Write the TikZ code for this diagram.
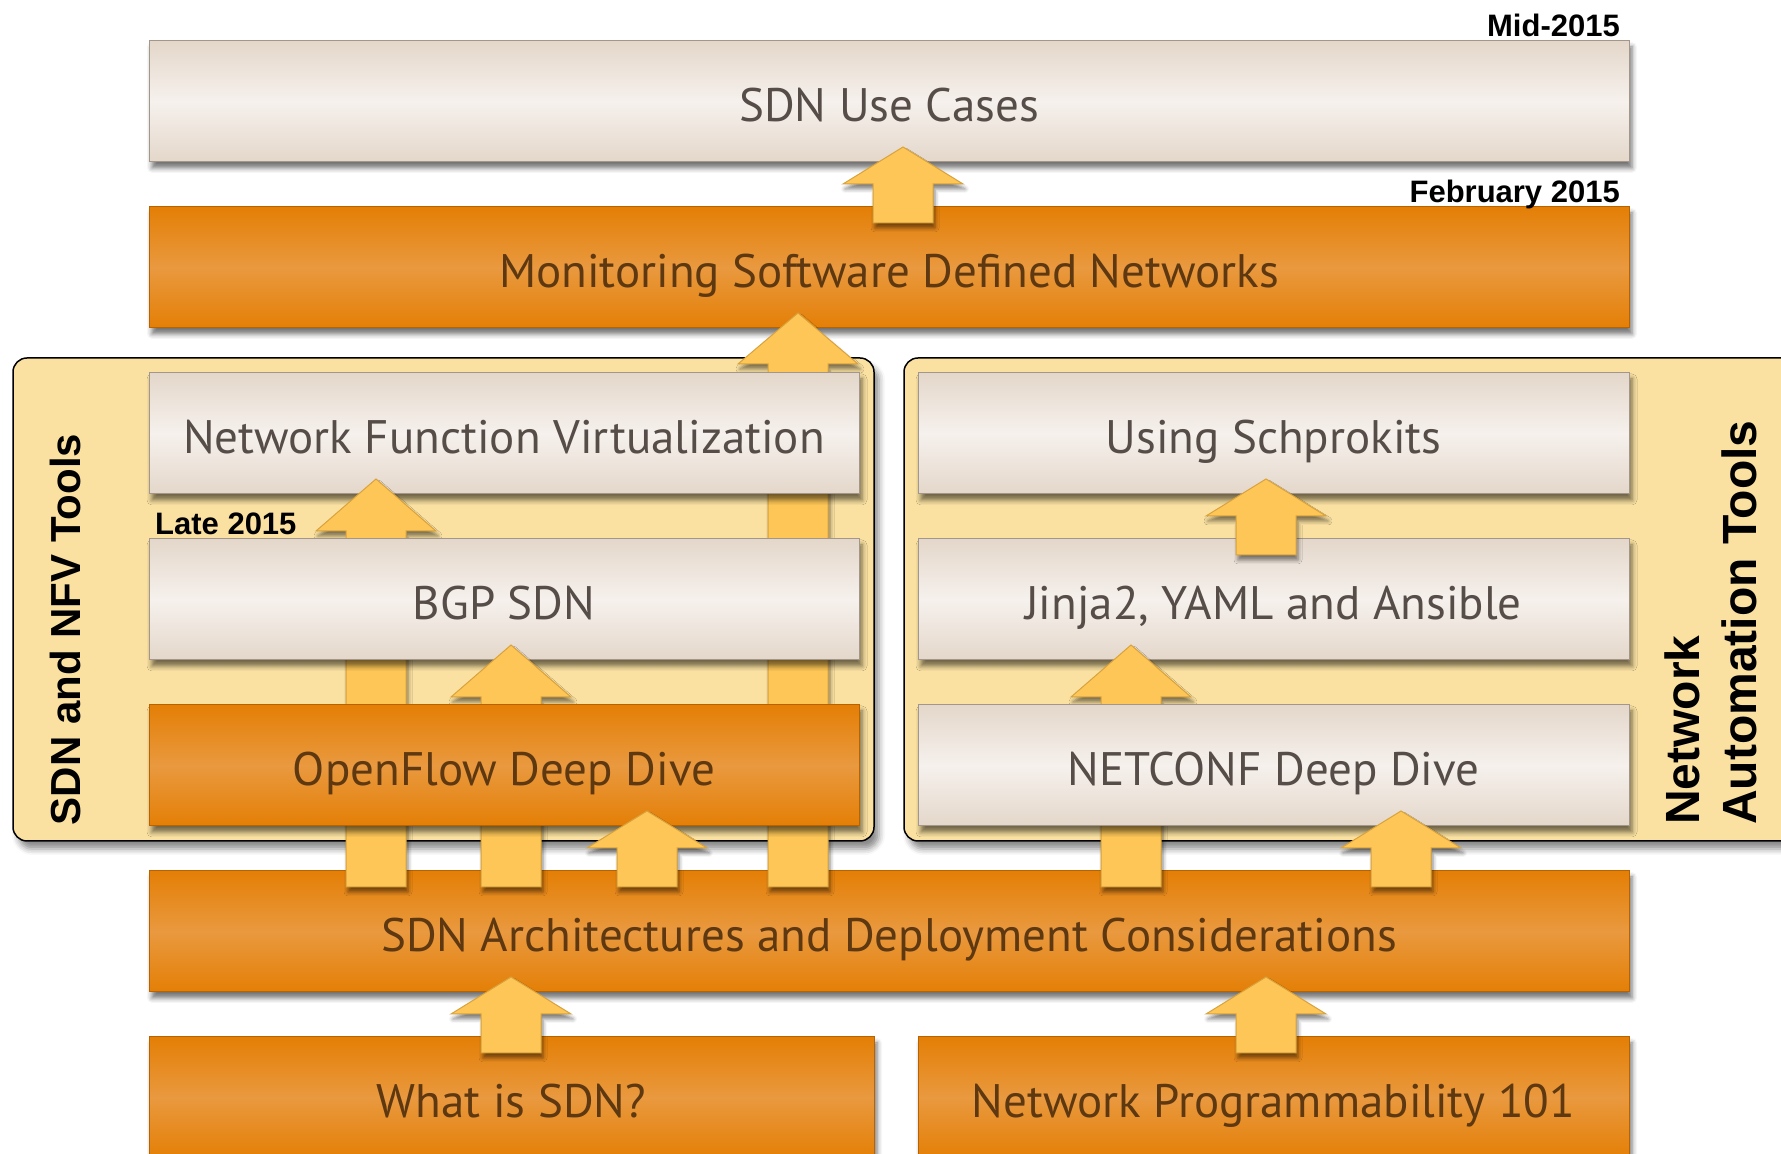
\documentclass[tikz,border=0pt]{standalone}
\usepackage{fontspec}
\usetikzlibrary{positioning,shadows,shadows.blur}

\newfontfamily\slabfont{PT Sans}
\newfontfamily\tagfont{Liberation Sans}

\definecolor{paleTop}{HTML}{E4D7CA}
\definecolor{paleMid}{HTML}{F6F1ED}
\definecolor{paleEdge}{HTML}{A3968A}
\definecolor{paleText}{HTML}{564D48}
\definecolor{hotTop}{HTML}{E47F06}
\definecolor{hotMid}{HTML}{E9993F}
\definecolor{hotEdge}{HTML}{B86300}
\definecolor{hotText}{HTML}{5E3811}
\definecolor{liftFill}{HTML}{FDC656}
\definecolor{liftEdge}{HTML}{D9A23C}
\definecolor{groupFill}{HTML}{FAE1A1}

\begin{document}
\begin{tikzpicture}[x=1pt, y=1pt,
    slab/.style={rectangle, inner sep=0pt, outer sep=0pt, minimum height=121pt, line width=1pt,
        text height=40pt, text depth=0pt, font=\slabfont\fontsize{47}{56}\selectfont,
        blur shadow={shadow xshift=3pt, shadow yshift=-6pt, shadow blur radius=5pt, shadow opacity=55}},
    pale/.style={slab, draw=paleEdge, top color=paleTop, bottom color=paleTop, middle color=paleMid, text=paleText},
    hot/.style={slab, draw=hotEdge, top color=hotTop, bottom color=hotTop, middle color=hotMid, text=hotText},
    fullrow/.style={minimum width=1480pt},
    halfrow/.style={minimum width=711pt},
    toolgroup/.style={rectangle, draw=black, line width=1.5pt, fill=groupFill, rounded corners=14pt,
        minimum height=483pt, inner sep=0pt,
        blur shadow={shadow xshift=5pt, shadow yshift=-8pt, shadow blur radius=6pt, shadow opacity=45}},
    datetag/.style={font=\tagfont\bfseries\fontsize{31}{36}\selectfont, inner sep=0pt, text depth=0pt},
    grouptag/.style={font=\tagfont\bfseries, rotate=90, inner sep=0pt, align=left},
    lift/.style={fill=liftFill, draw=liftEdge, line width=1pt, line join=miter,
        blur shadow={shadow xshift=2pt, shadow yshift=-5pt, shadow blur radius=4pt, shadow opacity=50},
        to path={let \p1=(\tikztostart), \p2=(\tikztotarget) in
            (\x1-30pt,\y1-16pt) -- (\x1-30pt,\y2+15pt-#1) -- (\x1-60pt,\y2+15pt-#1) -- (\x1,\y2+15pt)
            -- (\x1+60pt,\y2+15pt-#1) -- (\x1+30pt,\y2+15pt-#1) -- (\x1+30pt,\y1-16pt) -- cycle}},
    lift/.default=37pt
]
\useasboundingbox (0,0) rectangle (1781,1154);

\node [toolgroup, minimum width=861pt] (sdngroup) at (443.5,554.5) {};
\node [toolgroup, minimum width=926pt] (autogroup) at (1367,554.5) {};
\node [grouptag, font=\tagfont\bfseries\fontsize{42}{50}\selectfont, anchor=base] (sdntag) at (80,524.5) {SDN and NFV Tools};
\node [grouptag, font=\tagfont\bfseries\fontsize{48}{57}\selectfont, anchor=south west] (autotag) at (1757,329) {Network\\Automation Tools};

\node [pale, fullrow] (usecases) at (889,1052.5) {SDN Use Cases};
\node [hot, fullrow] (monitor) at (889,886.5) {Monitoring Software Defined Networks};
\node [hot, fullrow] (arch) at (889,222.5) {SDN Architectures and Deployment Considerations};
\node [pale, halfrow] (schpro) at (1273.5,720.5) {Using Schprokits};
\node [pale, halfrow] (jinja) at (1273.5,554.5) {Jinja2, YAML and Ansible};
\node [hot, minimum width=725pt] (whatis) at (511.5,56.5) {What is SDN?};
\node [hot, halfrow] (netprog) at (1273.5,56.5) {Network Programmability 101};

\draw [lift=51pt] (798,0 |- arch.north) to (798,0 |- monitor.south);
\node [pale, minimum width=710pt] (nfv) at (504,720.5) {Network Function Virtualization};
\draw [lift=52pt] (376,0 |- arch.north) to (376,0 |- nfv.south);
\node [pale, minimum width=710pt] (bgp) at (504,554.5) {BGP SDN};
\draw [lift=52pt] (511,0 |- arch.north) to (511,0 |- bgp.south);
\node [hot, minimum width=710pt] (openflow) at (504,388.5) {OpenFlow Deep Dive};
\draw [lift=52pt] (1131,0 |- arch.north) to (1131,0 |- jinja.south);
\node [pale, halfrow] (netconf) at (1273.5,388.5) {NETCONF Deep Dive};

\draw [lift] (903,0 |- monitor.north) to (903,0 |- usecases.south);
\draw [lift] (647,0 |- arch.north) to (647,0 |- openflow.south);
\draw [lift] (1401,0 |- arch.north) to (1401,0 |- netconf.south);
\draw [lift] (1266,0 |- jinja.north) to (1266,0 |- schpro.south);
\draw [lift] (511,0 |- whatis.north) to (511,0 |- arch.south);
\draw [lift] (1266,0 |- netprog.north) to (1266,0 |- arch.south);

\node [datetag, above left=4pt and 9pt of usecases.north east] (midyear) {Mid-2015};
\node [datetag, above left=4pt and 9pt of monitor.north east] (february) {February 2015};
\node [datetag, above right=4pt and 6pt of bgp.north west] (late) {Late 2015};

\end{tikzpicture}
\end{document}
